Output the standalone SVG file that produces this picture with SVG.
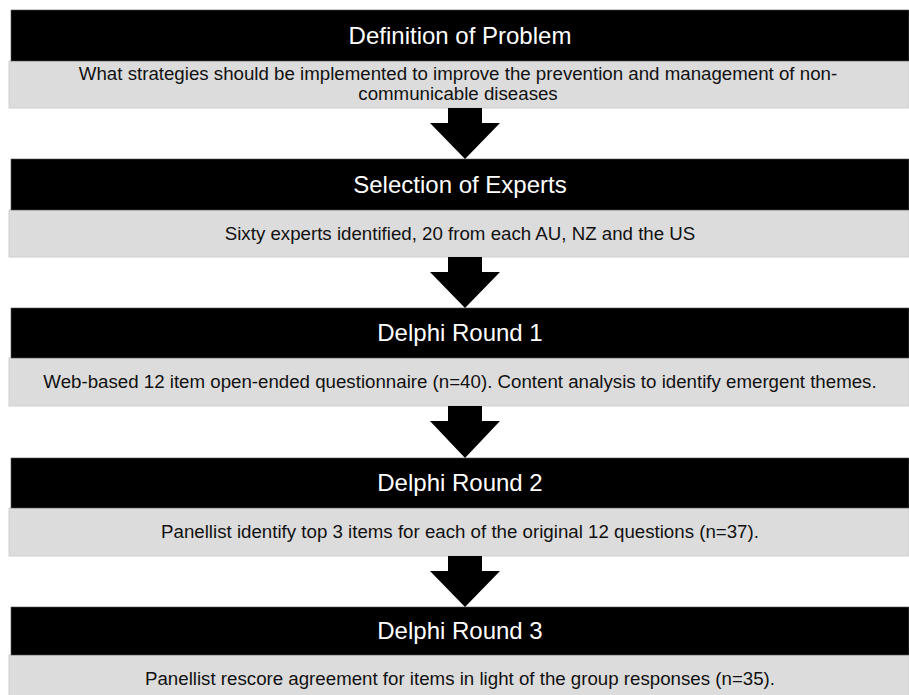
<svg xmlns="http://www.w3.org/2000/svg" width="909" height="695" viewBox="0 0 909 695">
<style>
.hdr{fill:#000;stroke:#555;stroke-width:0.6}
.body{fill:#dcdcdc;stroke:#cfcfcf;stroke-width:1}
.ht{font-family:"Liberation Sans",Arial,sans-serif;font-size:24px;fill:#fff;text-anchor:middle}
.bt{font-family:"Liberation Sans",Arial,sans-serif;font-size:18.7px;fill:#111;text-anchor:middle}
.arr{fill:#000}
</style>
<rect width="909" height="695" fill="#fff"/>
<g id="node1">
<rect class="body" x="9" y="61" width="900" height="47"/>
<rect class="hdr" x="11" y="10" width="898" height="51"/>
<text class="ht" x="460" y="44">Definition of Problem</text>
<text class="bt" x="458" y="80">What strategies should be implemented to improve the prevention and management of non-</text>
<text class="bt" x="458" y="100">communicable diseases</text>
</g>
<g id="node2">
<rect class="body" x="9" y="210" width="900" height="47"/>
<rect class="hdr" x="11" y="159" width="898" height="51"/>
<text class="ht" x="460" y="193">Selection of Experts</text>
<text class="bt" x="460" y="240">Sixty experts identified, 20 from each AU, NZ and the US</text>
</g>
<g id="node3">
<rect class="body" x="9" y="358" width="900" height="48"/>
<rect class="hdr" x="11" y="308" width="898" height="50"/>
<text class="ht" x="460" y="341">Delphi Round 1</text>
<text class="bt" x="460" y="388">Web-based 12 item open-ended questionnaire (n=40). Content analysis to identify emergent themes.</text>
</g>
<g id="node4">
<rect class="body" x="9" y="508" width="900" height="48"/>
<rect class="hdr" x="11" y="458" width="898" height="50"/>
<text class="ht" x="460" y="491">Delphi Round 2</text>
<text class="bt" x="460" y="538">Panellist identify top 3 items for each of the original 12 questions (n=37).</text>
</g>
<g id="node5">
<rect class="body" x="9" y="655" width="900" height="48"/>
<rect class="hdr" x="11" y="607" width="898" height="48"/>
<text class="ht" x="460" y="639">Delphi Round 3</text>
<text class="bt" x="460" y="685">Panellist rescore agreement for items in light of the group responses (n=35).</text>
</g>
<g id="connectors">
<polygon class="arr" points="448,108 482,108 482,123 500,123 465,159 430,123 448,123"/>
<polygon class="arr" points="448,257 482,257 482,272 500,272 465,308 430,272 448,272"/>
<polygon class="arr" points="448,406 482,406 482,421 500,421 465,458 430,421 448,421"/>
<polygon class="arr" points="448,556 482,556 482,571 500,571 465,607 430,571 448,571"/>
</g>
</svg>
